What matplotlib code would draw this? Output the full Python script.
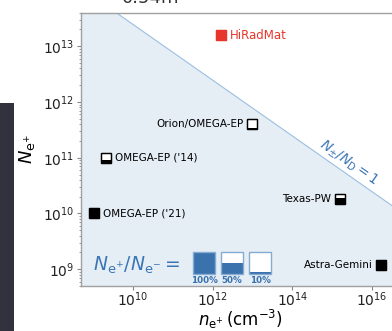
import numpy as np
import matplotlib
matplotlib.use('Agg')
import matplotlib.pyplot as plt
from matplotlib.path import Path
from matplotlib.patches import Rectangle
import matplotlib.ticker as mticker

# ---------------- data ----------------
facilities = ["HiRadMat", "Orion/OMEGA-EP", "OMEGA-EP ('14)", "OMEGA-EP ('21)",
              "Texas-PW", "Astra-Gemini"]
density = [1.6e12, 9.8e12, 2.05e9, 1.05e9, 1.55e15, 1.7e16]      # n_e+ (cm^-3)
number = [1.58e13, 4.1e11, 1.0e11, 1.0e10, 1.8e10, 1.18e9]        # N_e+
ratio = [1.0, 0.1, 0.35, 1.0, 0.6, 1.0]                             # N_e+/N_e-
legend_ratios = [1.0, 0.5, 0.1]
legend_labels = ["100%", "50%", "10%"]
xticks = [1e10, 1e12, 1e14, 1e16]
line_const = 18.39   # log10 of N at n=1 for N_pm/N_D = 1 (slope -1/2)

# ---------------- style ----------------
W, H = 392, 331
fig = plt.figure(figsize=(W / 100, H / 100), dpi=100)
fig.patch.set_facecolor('white')

# dark strip artifact on left edge
fig.patches.append(Rectangle((0, 0), 14 / W, (H - 103) / H, transform=fig.transFigure,
                             facecolor='#30323d', edgecolor='none', zorder=0))
fig.text(0.385, 1.005, '0.54m', fontsize=13, color='#333333', ha='center', va='center')

ax = fig.add_axes([81.3 / W, (H - 286) / H, (400 - 81.3) / W, (286 - 12.7) / H])
ax.set_xscale('log')
ax.set_yscale('log')
xlim = (5e8, 5e16)
ylim = (5e8, 4e13)
ax.set_xlim(*xlim)
ax.set_ylim(*ylim)
ax.set_facecolor('white')

# N_pm / N_D = 1 line and shaded region
n = np.logspace(np.log10(xlim[0]), np.log10(xlim[1]), 200)
Nline = 10 ** line_const * n ** -0.5
ax.fill_between(n, ylim[0], Nline, color='#e5edf5', lw=0, zorder=0)
ax.plot(n, Nline, color='#9cbfe0', lw=0.8, zorder=1)
ax.text(10 ** 15.42, 10 ** (line_const - 0.5 * 15.42 + 0.22), r'$N_{\pm}/N_\mathrm{D} = 1$',
        rotation=-35, color='#3a75b5', fontsize=10, ha='center', va='center',
        rotation_mode='anchor')

# markers with partial fill
ms = 7.6
colors = ['#e8352b'] + ['black'] * 5
sides = ['right', 'left', 'right', 'right', 'left', 'left']
fsizes = [8.5, 7.5, 7.5, 7.5, 7.5, 7.5]


def fill_path(f):
    verts = [(-0.5, -0.5), (0.5, -0.5), (0.5, -0.5 + f), (-0.5, -0.5 + f), (-0.5, -0.5)]
    return Path(verts, [Path.MOVETO, Path.LINETO, Path.LINETO, Path.LINETO, Path.CLOSEPOLY])


for name, x, y, r, c, side, fs in zip(facilities, density, number, ratio, colors, sides, fsizes):
    ax.plot([x], [y], marker='s', ms=ms, mfc='white', mec=c, mew=0.9, ls='none', zorder=3)
    ax.plot([x], [y], marker=fill_path(r), ms=ms, mfc=c, mec=c, mew=0, ls='none', zorder=4)
    ax.plot([x], [y], marker='s', ms=ms, mfc='none', mec=c, mew=0.9, ls='none', zorder=5)
    if side == 'right':
        ax.annotate(name, (x, y), xytext=(6.5, 0), textcoords='offset points',
                    ha='left', va='center', fontsize=fs, color=c)
    else:
        ax.annotate(name, (x, y), xytext=(-6.5, 0), textcoords='offset points',
                    ha='right', va='center', fontsize=fs, color=c)

# ratio legend
blue = '#3a72ad'
ax.text(0.037, 0.077, r'$N_{\mathrm{e}^{+}}/N_{\mathrm{e}^{-}} =$', transform=ax.transAxes,
        fontsize=13.5, color='#3a75b5', ha='left', va='center')
bw, bh = 22 / 318.7, 22 / 273.3
for i, (r, lab) in enumerate(zip(legend_ratios, legend_labels)):
    x0 = 0.3505 + i * 28.0 / 318.7
    y0 = 0.044
    ax.add_patch(Rectangle((x0, y0), bw, bh, transform=ax.transAxes, facecolor='white',
                           edgecolor='none', zorder=5))
    ax.add_patch(Rectangle((x0, y0), bw, bh * r, transform=ax.transAxes, facecolor=blue,
                           edgecolor='none', zorder=6))
    ax.add_patch(Rectangle((x0, y0), bw, bh, transform=ax.transAxes, facecolor='none',
                           edgecolor='#86abd3', lw=1.0, zorder=7))
    ax.text(x0 + bw / 2, 0.021, lab, transform=ax.transAxes, ha='center', va='center',
            fontsize=6.3, color=blue, fontweight='bold')

# ticks & spines
for s in ax.spines.values():
    s.set_color('#a0a0a0')
    s.set_linewidth(1.0)
ax.set_xticks(xticks)
ax.xaxis.set_minor_locator(mticker.NullLocator())
ax.yaxis.set_major_locator(mticker.LogLocator(base=10, numticks=20))
ax.yaxis.set_minor_locator(mticker.LogLocator(base=10, subs=np.arange(2, 10), numticks=20))
ax.yaxis.set_minor_formatter(mticker.NullFormatter())
ax.tick_params(which='major', direction='out', length=3, width=0.8, color='#888888',
               labelsize=10, labelcolor='#222222', pad=2)
ax.tick_params(axis='x', which='major', pad=0.5)
ax.tick_params(which='minor', direction='out', length=1.8, width=0.6, color='#888888')

ax.set_xlabel(r'$n_{\mathrm{e}^{+}}\,(\mathrm{cm}^{-3})$', fontsize=12, labelpad=-1)
ax.set_ylabel(r'$N_{\mathrm{e}^{+}}$', fontsize=13, labelpad=4)

fig.savefig('out.png', dpi=100, facecolor='white')
